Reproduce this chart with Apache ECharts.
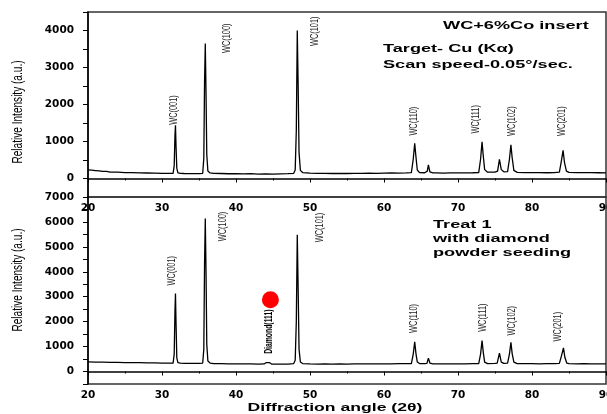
<!DOCTYPE html>
<html>
<head>
<meta charset="utf-8">
<script src="https://cdn.jsdelivr.net/npm/echarts@6/dist/echarts.min.js"></script>
<style>
  html, body { margin: 0; padding: 0; background: #fff; }
  #chart { width: 607px; height: 414px; }
</style>
</head>
<body>
<div id="chart"></div>
<script>
// XRD scans, [2theta, intensity]
const topScan = [
  [20, 235], [20.5, 225], [21, 215], [21.5, 205], [22, 190], [22.5, 195], [23, 175], [24, 170], [25, 160],
  [26, 158], [27, 150], [28, 148], [29, 145], [30, 140], [31, 138], [31.5, 140], [31.65, 350], [31.75, 1150],
  [31.82, 1440], [31.9, 850], [32.0, 280], [32.15, 150], [32.5, 140], [33, 135], [34, 132], [35, 130],
  [35.5, 140], [35.65, 550], [35.75, 2600], [35.85, 3650], [35.95, 2300], [36.05, 650], [36.2, 200],
  [36.5, 150], [37, 140], [38, 135], [39, 128], [40, 130], [41, 125], [42, 130], [43, 120], [44, 125],
  [45, 120], [46, 125], [47, 130], [47.8, 140], [48.0, 230], [48.15, 1300], [48.28, 4000], [48.4, 2500],
  [48.52, 700], [48.7, 220], [49, 160], [50, 145], [51, 140], [52, 140], [53, 135], [54, 140], [55, 135],
  [56, 140], [57, 140], [58, 145], [59, 140], [60, 145], [61, 150], [62, 145], [63, 150], [63.7, 160],
  [63.95, 520], [64.15, 950], [64.32, 580], [64.5, 230], [64.8, 160], [65.5, 155], [65.85, 200], [66.0, 370],
  [66.2, 180], [66.6, 150], [67, 150], [68, 145], [69, 150], [70, 150], [71, 150], [72, 155], [72.8, 160],
  [73.05, 520], [73.25, 990], [73.42, 600], [73.6, 240], [74, 170], [75, 170], [75.35, 200], [75.6, 520],
  [75.85, 240], [76.2, 180], [76.7, 185], [76.95, 520], [77.15, 910], [77.32, 560], [77.55, 220], [78, 165],
  [79, 160], [80, 160], [81, 160], [82, 155], [83, 160], [83.7, 170], [83.95, 450], [84.2, 760], [84.4, 420],
  [84.65, 200], [85, 165], [86, 160], [87, 160], [88, 160], [89, 155], [90, 150]
];
const bottomScan = [
  [20, 390], [21, 380], [22, 375], [23, 370], [24, 365], [25, 360], [26, 360], [27, 355], [28, 350],
  [29, 345], [30, 340], [31, 335], [31.5, 340], [31.65, 700], [31.75, 2400], [31.82, 3130], [31.9, 1900],
  [32.0, 550], [32.15, 360], [32.5, 335], [33, 330], [34, 325], [35, 325], [35.5, 340], [35.65, 900],
  [35.75, 4300], [35.85, 6140], [35.95, 4000], [36.05, 1100], [36.2, 420], [36.5, 340], [37, 320], [38, 315],
  [39, 310], [40, 310], [41, 305], [42, 305], [43, 300], [43.8, 305], [44.1, 360], [44.3, 420], [44.5, 360],
  [44.8, 300], [45.5, 295], [46, 295], [47, 300], [47.8, 320], [48.0, 450], [48.15, 2000], [48.28, 5490],
  [48.4, 3300], [48.52, 900], [48.7, 380], [49, 320], [50, 305], [51, 300], [52, 305], [53, 300], [54, 305],
  [55, 300], [56, 305], [57, 305], [58, 310], [59, 305], [60, 310], [61, 310], [62, 315], [63, 315],
  [63.7, 320], [63.95, 700], [64.15, 1190], [64.32, 720], [64.5, 380], [64.8, 320], [65.5, 320], [65.8, 330],
  [66.0, 540], [66.2, 340], [66.6, 310], [67, 310], [68, 305], [69, 310], [70, 310], [71, 310], [72, 315],
  [72.8, 320], [73.05, 700], [73.25, 1240], [73.42, 760], [73.6, 380], [74, 320], [75, 325], [75.3, 340],
  [75.6, 740], [75.85, 380], [76.2, 330], [76.7, 340], [76.95, 700], [77.15, 1170], [77.32, 720], [77.55, 380],
  [78, 320], [79, 315], [80, 315], [81, 310], [82, 315], [83, 315], [83.7, 330], [84.0, 650], [84.25, 950],
  [84.45, 560], [84.7, 340], [85, 315], [86, 310], [87, 315], [88, 310], [89, 310], [90, 310]
];

// peak labels: name, 2theta, intensity at label centre
const topPeakNames = ['WC(001)', 'WC(100)', 'WC(101)', 'WC(110)', 'WC(111)', 'WC(102)', 'WC(201)'];
const topPeakX = [31.6, 38.8, 50.7, 64.1, 72.4, 77.3, 84.1];
const topPeakY = [1850, 3790, 3980, 1550, 1600, 1550, 1550];

const bottomPeakNames = ['WC(001)', 'WC(100)', 'WC(101)', 'WC(110)', 'WC(111)', 'WC(102)', 'WC(201)'];
const bottomPeakX = [31.4, 38.2, 51.3, 64.1, 73.4, 77.3, 83.5];
const bottomPeakY = [4040, 5820, 5780, 2130, 2160, 2040, 1800];

const diamondNames = ['Diamond(111)'];
const diamondX = [44.5];
const diamondY = [1600];
const diamondDot = [44.65, 2880];

const xTicks = { min: 20, max: 90, step: 10 };
const topY = { min: -500, max: 4500 };
const bottomY = { min: -500, max: 7000 };

const chart = echarts.init(document.getElementById('chart'));

const sans = "'Liberation Sans', Arial, sans-serif";
const wide = "'DejaVu Sans', sans-serif";

function xAxisOf(idx) {
  return {
    gridIndex: idx,
    type: 'value',
    min: xTicks.min,
    max: xTicks.max,
    interval: xTicks.step,
    axisLine: { show: true, lineStyle: { color: '#000', width: 1.5 } },
    axisTick: { show: true, inside: false, length: 4, lineStyle: { color: '#000', width: 1 } },
    minorTick: { show: true, splitNumber: 2, length: 2, lineStyle: { color: '#000' } },
    axisLabel: { fontFamily: wide, fontWeight: 'bold', fontSize: 10.5, color: '#000', margin: 6 },
    splitLine: { show: false }
  };
}

function yAxisOf(idx, range) {
  return {
    gridIndex: idx,
    type: 'value',
    min: range.min,
    max: range.max,
    interval: 500,
    axisLine: { show: true, lineStyle: { color: '#000', width: 1.5 } },
    axisTick: { show: true, inside: false, length: 5, lineStyle: { color: '#000' } },
    axisLabel: {
      fontFamily: wide, fontWeight: 'bold', fontSize: 10.5, color: '#000', margin: 14,
      formatter: v => (v >= 0 && v % 1000 === 0 ? String(v) : '')
    },
    splitLine: { show: false }
  };
}

// vertical, condensed peak labels placed through the axes
function peakLabels(idx, names, xs, ys, font, color, squeeze) {
  return {
    type: 'custom',
    xAxisIndex: idx,
    yAxisIndex: idx,
    silent: true,
    clip: false,
    data: xs.map((x, i) => [x, ys[i]]),
    renderItem: (params, api) => {
      const pt = api.coord([api.value(0), api.value(1)]);
      return {
        type: 'text',
        x: pt[0], y: pt[1],
        rotation: Math.PI / 2,
        scaleX: squeeze,
        style: {
          text: names[params.dataIndex],
          font: font, fill: color,
          align: 'center', verticalAlign: 'middle'
        }
      };
    }
  };
}

function sideText(x, y, text) {
  return {
    type: 'text',
    x: x, y: y,
    scaleX: 1.65,
    style: {
      text: text, x: 0, y: 0,
      font: "bold 11px " + sans,
      fill: '#000', textVerticalAlign: 'middle'
    }
  };
}

function yName(y) {
  return {
    type: 'text',
    x: 18, y: y,
    rotation: Math.PI / 2,
    scaleX: 0.72,
    style: {
      text: 'Relative Intensity (a.u.)',
      font: "14px " + sans, fill: '#000',
      align: 'center', verticalAlign: 'middle'
    }
  };
}

const option = {
  animation: false,
  backgroundColor: '#fff',
  grid: [
    { left: 88, top: 12, width: 518, height: 185, show: true, borderColor: '#333', borderWidth: 1.5, outerBoundsMode: 'none' },
    { left: 88, top: 197, width: 518, height: 187, show: true, borderColor: '#333', borderWidth: 1.5, outerBoundsMode: 'none' }
  ],
  xAxis: [xAxisOf(0), xAxisOf(1)],
  yAxis: [yAxisOf(0, topY), yAxisOf(1, bottomY)],
  series: [
    {
      type: 'line', xAxisIndex: 0, yAxisIndex: 0, data: topScan,
      showSymbol: false, lineStyle: { color: '#000', width: 1.3 }
    },
    {
      type: 'line', xAxisIndex: 1, yAxisIndex: 1, data: bottomScan,
      showSymbol: false, lineStyle: { color: '#000', width: 1.3 }
    },
    peakLabels(0, topPeakNames, topPeakX, topPeakY, "11px " + sans, '#222', 0.67),
    peakLabels(1, bottomPeakNames, bottomPeakX, bottomPeakY, "11px " + sans, '#222', 0.67),
    peakLabels(1, diamondNames, diamondX, diamondY, "bold 11px " + sans, '#000', 0.62),
    {
      type: 'scatter', xAxisIndex: 1, yAxisIndex: 1,
      symbol: 'circle', symbolSize: 17, itemStyle: { color: '#ff0000', opacity: 1 },
      data: [diamondDot]
    }
  ],
  graphic: [
    sideText(443, 26, 'WC+6%Co insert'),
    sideText(383, 49, 'Target- Cu (Kα)'),
    sideText(383, 65, 'Scan speed-0.05°/sec.'),
    sideText(433, 225, 'Treat 1'),
    sideText(433, 239, 'with diamond'),
    sideText(433, 253, 'powder seeding'),
    yName(112),
    yName(280),
    {
      type: 'text',
      x: 335, y: 408,
      scaleX: 1.6,
      style: {
        text: 'Diffraction angle (2θ)',
        font: "bold 11px " + sans, fill: '#000',
        align: 'center', verticalAlign: 'middle'
      }
    }
  ]
};

chart.setOption(option);
</script>
</body>
</html>
